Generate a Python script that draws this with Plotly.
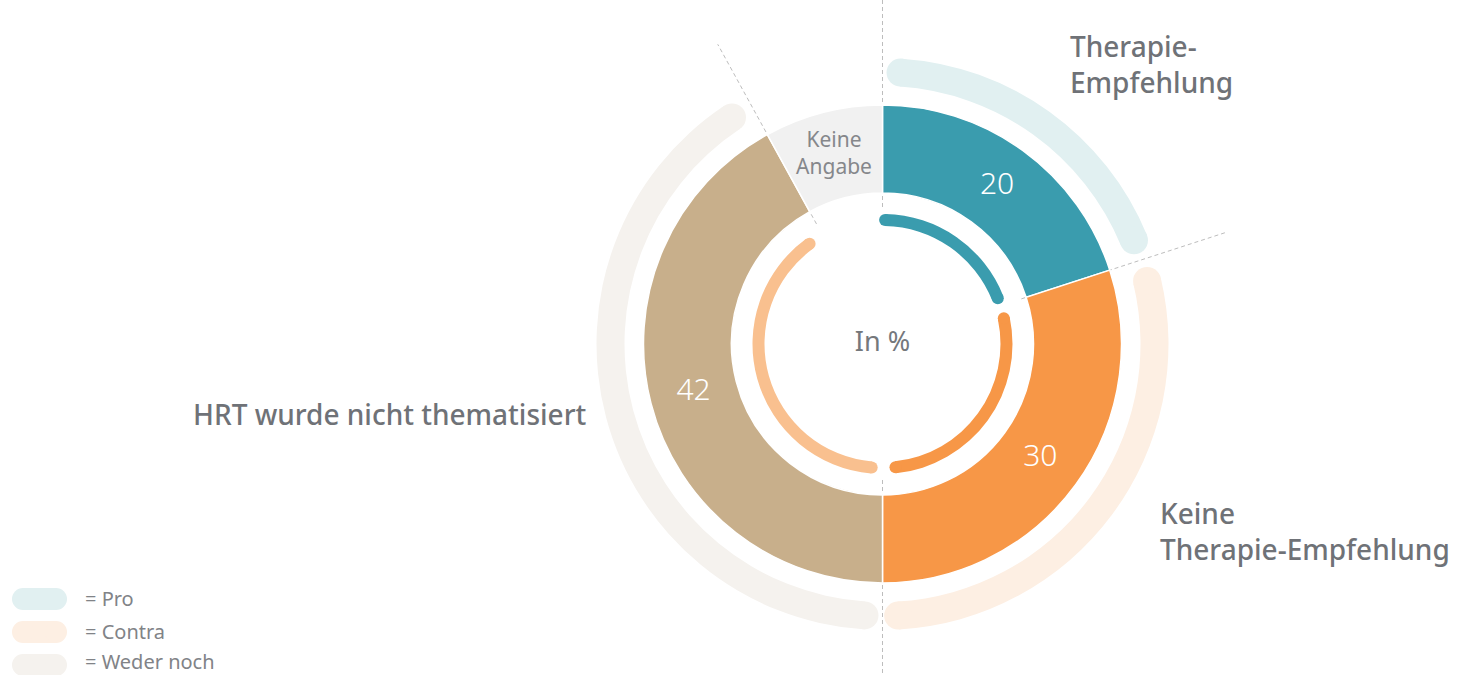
import numpy as np
import plotly.graph_objects as go

# ---------------- data ----------------
categories = ["Therapie-Empfehlung", "Keine Therapie-Empfehlung",
              "HRT wurde nicht thematisiert", "Keine Angabe"]
values = [20, 30, 42, 8]
value_labels = ["20", "30", "42", "Keine<br>Angabe"]
attitudes = ["Pro", "Contra", "Weder noch"]
center_label = "In %"

# ---------------- style ----------------
W, H = 1459, 675
CX, CY = 882.5, 344.0          # pixel centre of the donut
R_POLAR = 330                  # polar radius in px (radial units = px)
FONT = "Noto Sans"
GRAY_TXT = "#6F7277"

seg_colors = ["#3A9CAE", "#F79747", "#C8AF8B", "#F1F1F1"]
outer_colors = ["#E1F0F1", "#FDEFE3", "#F5F2EE"]
inner_colors = ["#3A9CAE", "#F79747", "#F9C08F"]
label_colors = ["white", "white", "white", "#85878B"]
label_sizes = [30, 30, 30, 21]

R_HOLE, R_OUT = 151, 239
R_LABEL = 195
OUTER_R, OUTER_W = 272, 28
INNER_R, INNER_W = 124, 12
OUTER_INSETS = [(3.8, 4.4), (4.6, 3.3), (3.8, 4.8)]
INNER_INSETS = [(1.2, 3.6), (6.0, 6.0), (5.0, 7.2)]

# ---------------- geometry from data ----------------
vals = np.array(values, dtype=float)
spans = vals / vals.sum() * 360.0
ends = np.cumsum(spans)
starts = ends - spans
mids = (starts + ends) / 2

fig = go.Figure()


def arc(a0, a1, r_mid, w, color):
    fig.add_trace(go.Barpolar(
        base=[r_mid - w / 2], r=[w], theta=[(a0 + a1) / 2], width=[a1 - a0],
        marker=dict(color=color, line=dict(width=0)),
        hoverinfo="skip", showlegend=False))
    fig.add_trace(go.Scatterpolar(
        r=[r_mid, r_mid], theta=[a0, a1], mode="markers",
        marker=dict(size=w, color=color, line=dict(width=0)),
        cliponaxis=False, hoverinfo="skip", showlegend=False))


# outer attitude arcs
for i, col in enumerate(outer_colors):
    arc(starts[i] + OUTER_INSETS[i][0], ends[i] - OUTER_INSETS[i][1],
        OUTER_R, OUTER_W, col)

# main donut
fig.add_trace(go.Barpolar(
    base=[R_HOLE] * len(values), r=[R_OUT - R_HOLE] * len(values),
    theta=list(mids), width=list(spans),
    marker=dict(color=seg_colors, line=dict(color="white", width=1.5)),
    text=categories, hoverinfo="text", showlegend=False))

# inner arcs
for i, col in enumerate(inner_colors):
    arc(starts[i] + INNER_INSETS[i][0], ends[i] - INNER_INSETS[i][1],
        INNER_R, INNER_W, col)

# dashed separator lines (segment boundaries, drawn on pixel-unit axes)
dash_specs = [(0.0, 137, 350), (180.0, 136, 335),
              (ends[0], 146, 360), (ends[2], 137, 342)]
for th, r0, r1 in dash_specs:
    t = np.radians(th)
    rr = np.array([r0, r1], dtype=float)
    fig.add_trace(go.Scatter(
        x=CX + rr * np.sin(t), y=CY - rr * np.cos(t), mode="lines",
        line=dict(color="#BDBDBD", width=1, dash="4px,3px"),
        cliponaxis=False, hoverinfo="skip", showlegend=False))

# value labels
for i in range(len(values)):
    fig.add_trace(go.Scatterpolar(
        r=[R_LABEL], theta=[mids[i]], mode="text", text=[value_labels[i]],
        textfont=dict(family=FONT, size=label_sizes[i], color=label_colors[i],
                      weight=300 if i < 3 else 400),
        cliponaxis=False, hoverinfo="skip", showlegend=False))

fig.add_trace(go.Scatterpolar(
    r=[0], theta=[0], mode="text", text=[center_label],
    textfont=dict(family=FONT, size=27, color="#75787C"),
    cliponaxis=False, hoverinfo="skip", showlegend=False))

# legend pills (cartesian, pixel units)
leg_y = [599, 632, 665]
leg_text_y = [598, 631, 661]
for i, name in enumerate(attitudes):
    fig.add_trace(go.Scatter(
        x=[23, 56], y=[leg_y[i], leg_y[i]], mode="lines+markers",
        line=dict(color=outer_colors[i], width=22),
        marker=dict(size=22, color=outer_colors[i]),
        hoverinfo="skip", showlegend=False, cliponaxis=False))
    fig.add_annotation(x=83, y=leg_text_y[i], xref="x", yref="y",
                       text="= " + name,
                       showarrow=False, xanchor="left", yanchor="middle",
                       font=dict(family=FONT, size=20, color="#818387"))

# category annotations
big = dict(family=FONT, size=28, color=GRAY_TXT, weight=500)
fig.add_annotation(x=1068, y=64, xref="x", yref="y",
                   text="Therapie-<br>Empfehlung", showarrow=False,
                   xanchor="left", yanchor="middle", align="left", font=big)
fig.add_annotation(x=1158, y=531, xref="x", yref="y",
                   text="Keine<br>Therapie-Empfehlung", showarrow=False,
                   xanchor="left", yanchor="middle", align="left", font=big)
fig.add_annotation(x=588, y=414, xref="x", yref="y",
                   text=categories[2], showarrow=False,
                   xanchor="right", yanchor="middle", align="right", font=big)

fig.update_layout(
    width=W, height=H,
    margin=dict(l=0, r=0, t=0, b=0),
    paper_bgcolor="white", plot_bgcolor="rgba(0,0,0,0)",
    xaxis=dict(range=[0, W], visible=False, domain=[0, 1], fixedrange=True),
    yaxis=dict(range=[H, 0], visible=False, domain=[0, 1], fixedrange=True),
    polar=dict(
        domain=dict(x=[(CX - R_POLAR) / W, (CX + R_POLAR) / W],
                    y=[(H - CY - R_POLAR) / H, (H - CY + R_POLAR) / H]),
        radialaxis=dict(range=[0, R_POLAR], visible=False),
        angularaxis=dict(rotation=90, direction="clockwise", visible=False),
        bgcolor="rgba(0,0,0,0)",
        barmode="overlay",
    ),
    showlegend=False,
)

fig.write_html("out.html",
               config={"displayModeBar": False},
               post_script="document.body.style.margin='0';"
                           "document.body.style.overflow='hidden';")
